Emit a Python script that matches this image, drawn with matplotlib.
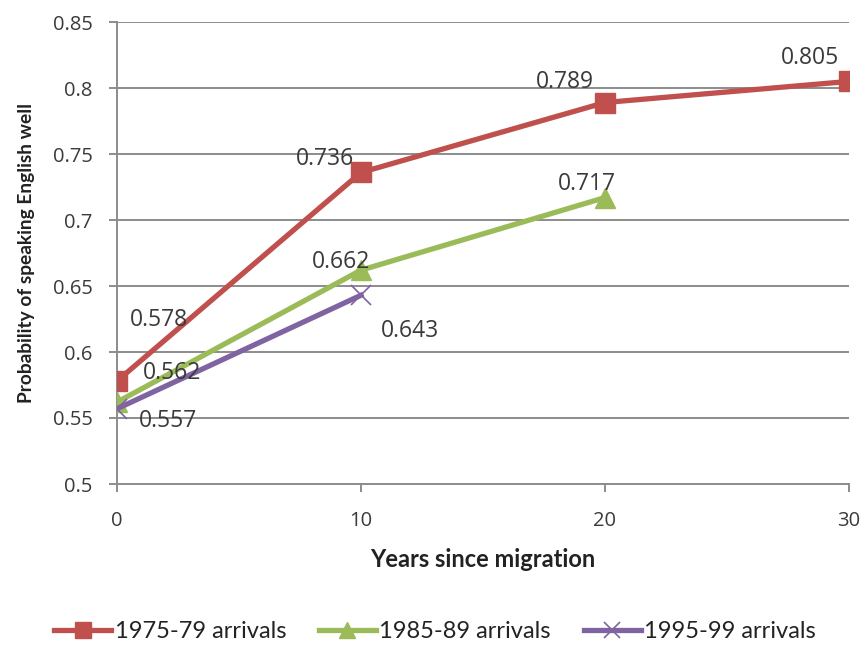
import matplotlib
matplotlib.use("Agg")
import matplotlib.pyplot as plt

years = [0, 10, 20, 30]
series_names = ["1975-79 arrivals", "1985-89 arrivals", "1995-99 arrivals"]
arr_1975 = [0.578, 0.736, 0.789, 0.805]
arr_1985 = [0.562, 0.662, 0.717]
arr_1995 = [0.557, 0.643]
y_ticks = [0.5, 0.55, 0.6, 0.65, 0.7, 0.75, 0.8, 0.85]
y_tick_labels = ["0.5", "0.55", "0.6", "0.65", "0.7", "0.75", "0.8", "0.85"]
x_ticks = [0, 10, 20, 30]

RED = "#C0504D"
GREEN = "#9BBB59"
PURPLE = "#8064A2"
GRID = "#8c8c8c"
TEXT = "#3a3a3a"

fig = plt.figure(figsize=(8.65, 6.45), dpi=100)
ax = fig.add_axes([117 / 865, 1 - 484 / 645, (849 - 117) / 865, (484 - 22) / 645])

ax.plot(years[:len(arr_1975)], arr_1975, color=RED, lw=3.8, marker="s", ms=14,
        label=series_names[0], zorder=3)
ax.plot(years[:len(arr_1985)], arr_1985, color=GREEN, lw=3.8, marker="^", ms=14,
        label=series_names[1], zorder=3)
ax.plot(years[:len(arr_1995)], arr_1995, color=PURPLE, lw=3.8, marker="x", ms=14,
        mew=1.2, label=series_names[2], zorder=3)

# value labels with per-point offsets (points)
offsets = {
    0: [(30, 44), (-26, 10), (-29, 15), (-28, 17)],
    1: [(40, 21), (-14, 6), (-13, 10)],
    2: [(37, -9), (35, -26)],
}
for idx, vals in enumerate([arr_1975, arr_1985, arr_1995]):
    for j, v in enumerate(vals):
        ax.annotate(f"{v:.3f}", (years[j], v), xytext=offsets[idx][j],
                    textcoords="offset points", ha="center", va="center",
                    fontsize=16.5, family="Open Sans", color=TEXT, zorder=4)

ax.set_xlim(0, 30)
ax.set_ylim(0.5, 0.85)
ax.set_xticks(x_ticks)
ax.set_xticklabels([str(v) for v in x_ticks])
ax.set_yticks(y_ticks)
ax.set_yticklabels(y_tick_labels)
ax.yaxis.grid(True, color=GRID, lw=1.4)
ax.set_axisbelow(True)
for s in ["top", "right"]:
    ax.spines[s].set_visible(False)
for s in ["left", "bottom"]:
    ax.spines[s].set_color(GRID)
    ax.spines[s].set_linewidth(1.4)
ax.tick_params(axis="both", colors=GRID, width=1.4, length=5.5)
ax.tick_params(axis="y", pad=12)
ax.tick_params(axis="x", pad=14)
for lab in ax.get_xticklabels() + ax.get_yticklabels():
    lab.set_fontfamily("Open Sans")
    lab.set_fontsize(14.5)
    lab.set_color(TEXT)

ax.set_xlabel("Years since migration", fontsize=17, family="Lato", weight="bold",
              color="#222222", labelpad=12)
ax.set_ylabel("Probability of speaking English well", fontsize=13.8, family="Lato",
              weight="bold", color="#222222", labelpad=13)

fig.legend(loc="center", bbox_to_anchor=(0.503, 1 - 632 / 645), ncol=3, frameon=False,
           prop={"family": "Lato", "size": 17}, handlelength=2.4, columnspacing=1.4,
           handletextpad=0.15, labelcolor="#222222", markerscale=0.85)

fig.savefig("out.png", dpi=100, facecolor="white")
